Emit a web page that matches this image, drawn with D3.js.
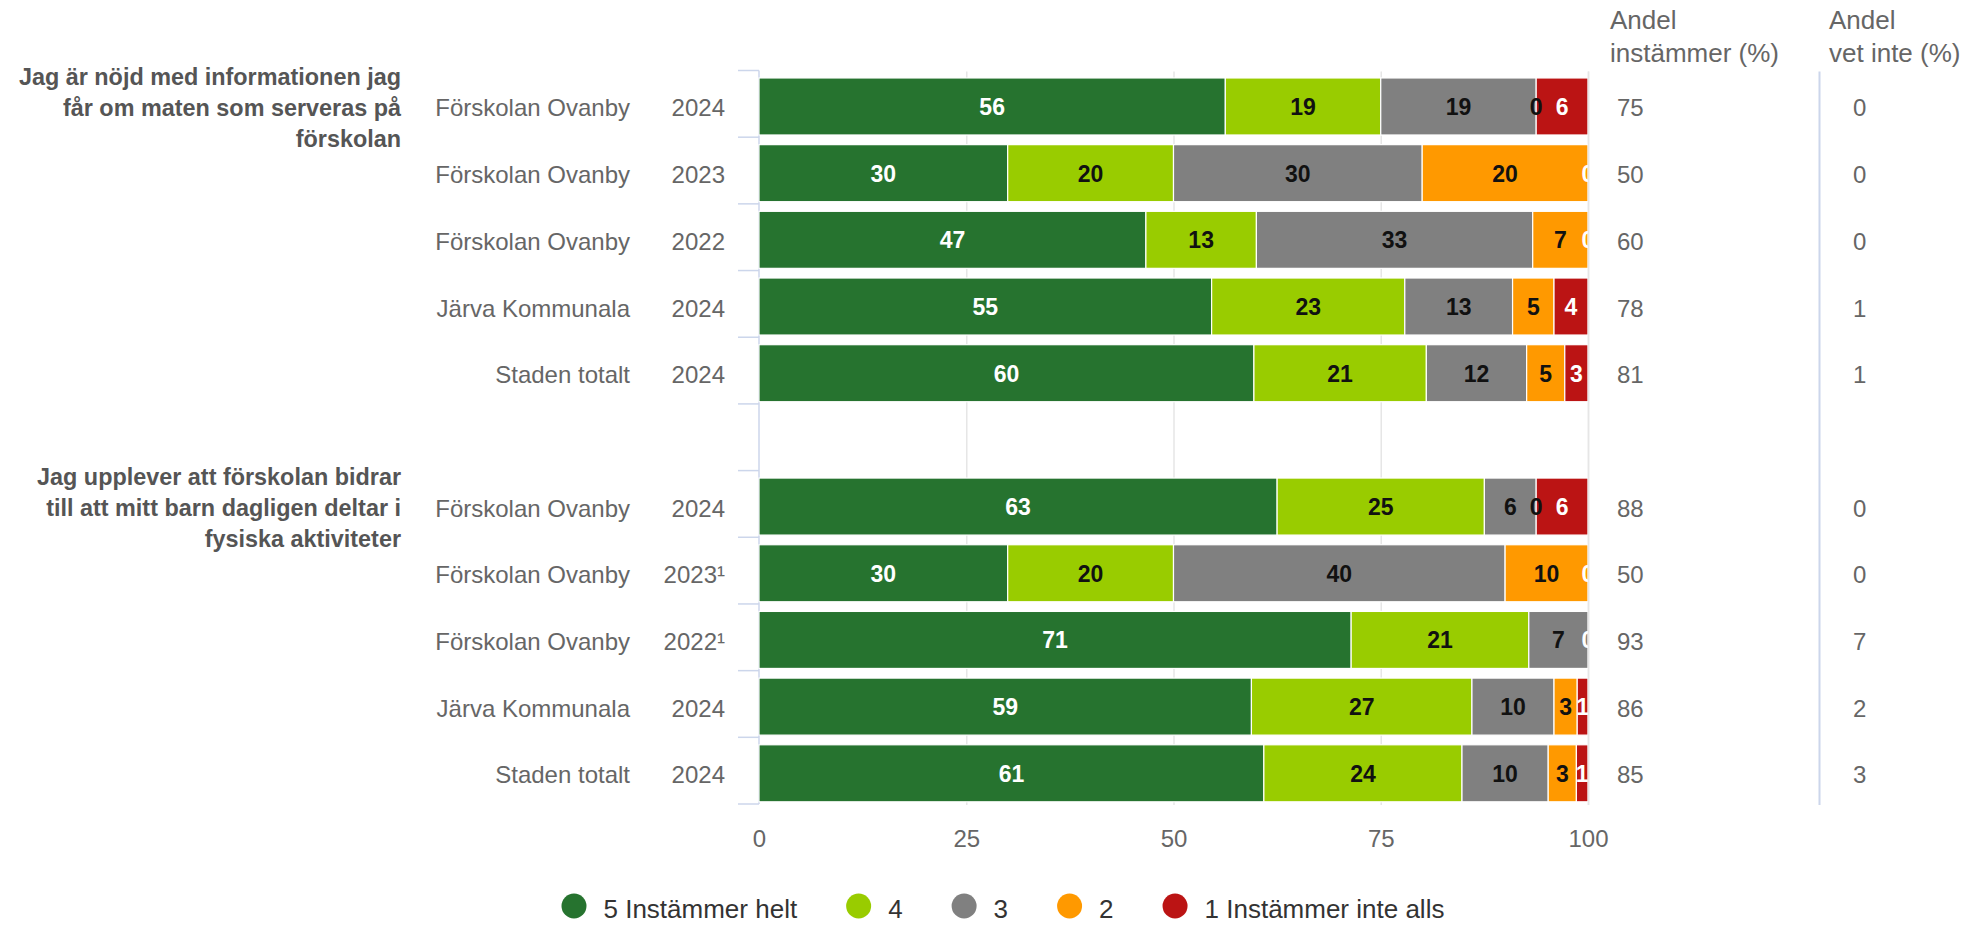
<!DOCTYPE html>
<html>
<head>
<meta charset="utf-8">
<script src="https://cdn.jsdelivr.net/npm/d3@7"></script>
<style>
  html, body { margin: 0; padding: 0; background: #fff; }
  svg { display: block; font-family: "Liberation Sans", Arial, Helvetica, sans-serif; }
</style>
</head>
<body>
<svg id="chart" width="1970" height="925"></svg>
<script>
// ---------------- DATA ----------------
const groupLabels = [
  ["Jag är nöjd med informationen jag", "får om maten som serveras på", "förskolan"],
  ["Jag upplever att förskolan bidrar", "till att mitt barn dagligen deltar i", "fysiska aktiviteter"]
];
const units = ["Förskolan Ovanby", "Förskolan Ovanby", "Förskolan Ovanby", "Järva Kommunala", "Staden totalt",
               "Förskolan Ovanby", "Förskolan Ovanby", "Förskolan Ovanby", "Järva Kommunala", "Staden totalt"];
const years = ["2024", "2023", "2022", "2024", "2024",
               "2024", "2023¹", "2022¹", "2024", "2024"];
const rowGroup = [0, 0, 0, 0, 0, 1, 1, 1, 1, 1];

const seriesNames = ["5 Instämmer helt", "4", "3", "2", "1 Instämmer inte alls"];
const seriesColors = ["#26732f", "#99cc00", "#808080", "#ff9900", "#bb1414"];
const labelColors = ["#ffffff", "#111111", "#111111", "#111111", "#ffffff"];

const s5 = [56.25, 30, 46.67, 54.6, 59.7, 62.5, 30, 71.43, 59.4, 60.9];
const s4 = [18.75, 20, 13.33, 23.3, 20.8, 25, 20, 21.43, 26.6, 23.9];
const s3 = [18.75, 30, 33.33, 13.0, 12.1, 6.25, 40, 7.14, 9.9, 10.4];
const s2 = [0, 20, 6.67, 5.0, 4.6, 0, 10, 0, 2.8, 3.4];
const s1 = [6.25, 0, 0, 4.1, 2.8, 6.25, 0, 0, 1.3, 1.4];

const andelInstammer = [75, 50, 60, 78, 81, 88, 50, 93, 86, 85];
const andelVetInte = [0, 0, 0, 1, 1, 0, 0, 7, 2, 3];

const xTicks = [0, 25, 50, 75, 100];
const headerInstammer = ["Andel", "instämmer (%)"];
const headerVetInte = ["Andel", "vet inte (%)"];

// ---------------- LAYOUT ----------------
const svg = d3.select("#chart");
const plotLeft = 759, plotRight = 1588, plotTop = 70.5, plotBottom = 804;

const rowKeys = [];
units.forEach((u, i) => {
  if (i === 5) rowKeys.push("gap");
  rowKeys.push("r" + i);
});

const x = d3.scaleLinear().domain([0, 100]).range([plotLeft, plotRight]);
const y = d3.scaleBand().domain(rowKeys).range([plotTop, plotBottom]).padding(0);
const bw = y.bandwidth();
const barOff = bw * 0.112, barH = bw * 0.855;
const barCenter = i => y("r" + i) + barOff + barH / 2;

const rows = units.map((u, i) => ({ key: "r" + i, idx: i, v0: s5[i], v1: s4[i], v2: s3[i], v3: s2[i], v4: s1[i] }));
const stack = d3.stack().keys(["v0", "v1", "v2", "v3", "v4"]);
const stacked = stack(rows);

// clip for plot area
svg.append("defs").append("clipPath").attr("id", "plotclip")
  .append("rect").attr("x", plotLeft).attr("y", plotTop - 5).attr("width", plotRight - plotLeft).attr("height", plotBottom - plotTop + 10);

// gridlines
svg.append("g").selectAll("line").data(xTicks.filter(t => t > 0)).join("line")
  .attr("x1", d => x(d) + 0.5).attr("x2", d => x(d) + 0.5)
  .attr("y1", plotTop + 1).attr("y2", plotBottom + 1)
  .attr("stroke", "#e6e6e6").attr("stroke-width", 1.5);

// left axis line and band boundary ticks
const boundaries = rowKeys.map(k => y(k)).concat([plotBottom]);
svg.append("line").attr("x1", plotLeft).attr("x2", plotLeft)
  .attr("y1", plotTop).attr("y2", plotBottom).attr("stroke", "#ccd6eb").attr("stroke-width", 1.5);
svg.append("g").selectAll("line").data(boundaries).join("line")
  .attr("x1", plotLeft - 21).attr("x2", plotLeft)
  .attr("y1", d => d).attr("y2", d => d)
  .attr("stroke", "#ccd6eb").attr("stroke-width", 1.5);

// bars
const barsG = svg.append("g");
stacked.forEach((layer, si) => {
  barsG.append("g").selectAll("rect").data(layer).join("rect")
    .attr("x", d => x(d[0]))
    .attr("width", d => Math.max(0, x(d[1]) - x(d[0])))
    .attr("y", d => y(d.data.key) + barOff)
    .attr("height", barH)
    .attr("fill", seriesColors[si])
    .attr("stroke", "#ffffff").attr("stroke-width", 1.2);
});

// data labels with simple overlap handling (later series wins)
const labelsG = svg.append("g").attr("clip-path", "url(#plotclip)");
const fontLbl = 23;
rows.forEach((r, ri) => {
  const placed = [];
  stacked.forEach((layer, si) => {
    const d = layer[ri];
    const val = d[1] - d[0];
    const txt = String(Math.round(val));
    const cx = x((d[0] + d[1]) / 2);
    const w = txt.length * fontLbl * 0.556;
    const box = { l: cx - w / 2, r: cx + w / 2, si, txt, cx };
    for (let k = placed.length - 1; k >= 0; k--) {
      const p = placed[k];
      if (box.l < p.r && box.r > p.l) placed.splice(k, 1);
    }
    placed.push(box);
  });
  placed.forEach(p => {
    labelsG.append("text")
      .attr("x", p.cx).attr("y", barCenter(ri) + 8.5)
      .attr("text-anchor", "middle")
      .attr("font-size", fontLbl).attr("font-weight", "bold")
      .attr("fill", labelColors[p.si])
      .text(p.txt);
  });
});

// right plot edge line & separator
svg.append("line").attr("x1", plotRight + 0.5).attr("x2", plotRight + 0.5)
  .attr("y1", plotTop + 1).attr("y2", plotBottom + 1).attr("stroke", "#e6e6e6").attr("stroke-width", 1.5);
svg.append("line").attr("x1", 1819.5).attr("x2", 1819.5)
  .attr("y1", plotTop + 1).attr("y2", plotBottom + 1).attr("stroke", "#ccd6eb").attr("stroke-width", 2);

// x axis labels
const xAxis = d3.axisBottom(x).tickValues(xTicks).tickSize(0).tickPadding(0);
const xg = svg.append("g").attr("transform", `translate(0, ${plotBottom})`).call(xAxis);
xg.select(".domain").remove();
xg.selectAll("text").attr("font-size", 24).attr("fill", "#666666")
  .attr("font-family", "Liberation Sans, Arial, sans-serif")
  .attr("dy", null).attr("y", 43);

// category labels
const catG = svg.append("g").attr("font-size", 24).attr("fill", "#666666");
units.forEach((u, i) => {
  catG.append("text").attr("x", 630).attr("y", barCenter(i) + 10).attr("text-anchor", "end").text(u);
  catG.append("text").attr("x", 725).attr("y", barCenter(i) + 10).attr("text-anchor", "end").text(years[i]);
  catG.append("text").attr("x", 1617).attr("y", barCenter(i) + 10).text(andelInstammer[i]);
  catG.append("text").attr("x", 1853).attr("y", barCenter(i) + 10).text(andelVetInte[i]);
});

// group labels (centered on first row of each group)
groupLabels.forEach((lines, gi) => {
  const first = rowGroup.indexOf(gi);
  const midBase = barCenter(first) + 9.5;
  const lh = 30.8;
  lines.forEach((ln, li) => {
    svg.append("text").attr("x", 401).attr("y", midBase + (li - 1) * lh)
      .attr("text-anchor", "end").attr("font-size", 23.4).attr("font-weight", "bold")
      .attr("fill", "#555555").text(ln);
  });
});

// column headers
[[headerInstammer, 1610], [headerVetInte, 1829]].forEach(([lines, hx]) => {
  lines.forEach((ln, li) => {
    svg.append("text").attr("x", hx).attr("y", 28.5 + li * 33.2)
      .attr("font-size", 26).attr("fill", "#666666").text(ln);
  });
});

// legend
const leg = svg.append("g");
let lx = 561.5;
seriesNames.forEach((name, i) => {
  leg.append("circle").attr("cx", lx + 12.5).attr("cy", 906).attr("r", 12.5).attr("fill", seriesColors[i]);
  const t = leg.append("text").attr("x", lx + 42).attr("y", 918).attr("font-size", 26).attr("fill", "#333333").text(name);
  const tw = t.node().getComputedTextLength();
  lx = lx + 42 + tw + 49;
});
</script>
</body>
</html>
